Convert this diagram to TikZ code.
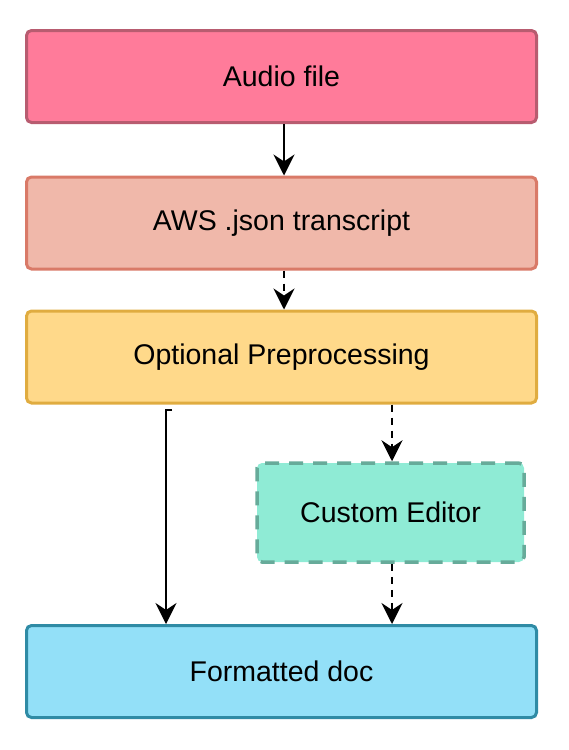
\documentclass[tikz,border=0pt]{standalone}
\usepackage{fontspec}
\setmainfont{Liberation Sans}
\usetikzlibrary{arrows.meta}
\definecolor{audiof}{HTML}{FF7B9A}
\definecolor{audiod}{HTML}{B85C70}
\definecolor{awsf}{HTML}{F0B8AA}
\definecolor{awsd}{HTML}{D97A68}
\definecolor{prepf}{HTML}{FFD98A}
\definecolor{prepd}{HTML}{E0AC40}
\definecolor{custf}{HTML}{8FEBD5}
\definecolor{custd}{HTML}{67AB9A}
\definecolor{fmtf}{HTML}{93E0F8}
\definecolor{fmtd}{HTML}{2F8BA5}
\tikzset{
  box/.style={rectangle, rounded corners=5pt, line width=3pt, minimum width=510pt, minimum height=92pt, inner sep=0pt, font=\fontsize{28.5}{34}\selectfont},
  conn/.style={line width=2pt, -{Stealth[length=21pt,width=21pt,inset=7pt]}},
  dconn/.style={conn, dash pattern=on 7pt off 6pt},
}
\begin{document}
\begin{tikzpicture}[x=1pt,y=-1pt]
\useasboundingbox (0,0) rectangle (568,750);
\node[box, fill=audiof, draw=audiod] (audio) at (281.5,76.5) {Audio file};
\node[box, fill=awsf, draw=awsd] (aws) at (281.5,223) {AWS .json transcript};
\node[box, fill=prepf, draw=prepd] (prep) at (281.5,357) {Optional Preprocessing};
\node[box, fill=custf, draw=custd, minimum width=267pt, minimum height=99pt, line width=3.5pt, dash pattern=on 14pt off 10pt] (cust) at (390.5,512.5) {Custom Editor};
\node[box, fill=fmtf, draw=fmtd] (fmt) at (281.5,671.5) {Formatted doc};
\draw[conn] (audio.south -| 284,0) -- (aws.north -| 284,0);
\draw[dconn] (aws.south -| 284,0) -- (prep.north -| 284,0);
\draw[dconn] (prep.south -| 392,0) -- (cust.north -| 392,0);
\draw[dconn] (cust.south -| 392,0) -- (fmt.north -| 392,0);
\coordinate (tick) at (172,410);
\draw[conn] (tick) -- (166,410) -- (fmt.north -| 166,0);
\end{tikzpicture}
\end{document}
